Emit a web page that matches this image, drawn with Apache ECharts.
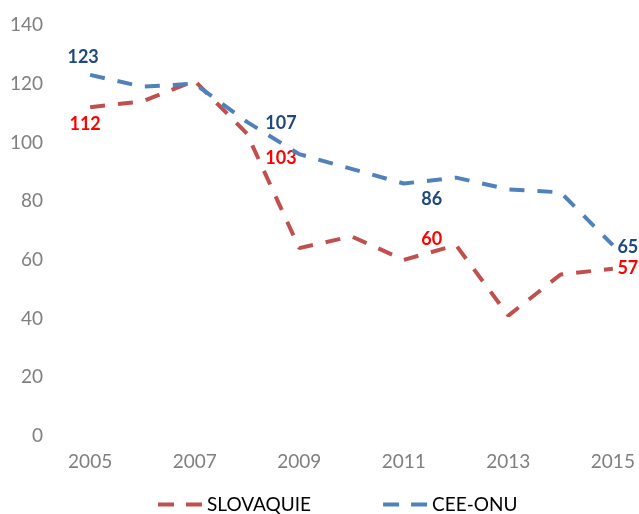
<!DOCTYPE html>
<html>
<head>
<meta charset="utf-8">
<script src="https://cdn.jsdelivr.net/npm/echarts@6/dist/echarts.min.js"></script>
<style>html,body{margin:0;padding:0;background:#fff}#c{width:639px;height:514px}</style>
</head>
<body>
<div id="c"></div>
<script>
const years = ['2005','2006','2007','2008','2009','2010','2011','2012','2013','2014','2015'];
const slovaquie = [112, 114, 121, 103, 64, 68, 60, 65, 41, 55, 57];
const ceeOnu = [123, 119, 120, 107, 96, 91, 86, 88, 84, 83, 65];
const yTicks = [0, 20, 40, 60, 80, 100, 120, 140];
const labelIdx = [0, 3, 6, 10];

// label offsets (layout only)
const redOffsets = {0: [-5, 17], 3: [34, 25], 6: [28, -21], 10: [15, 0]};
const blueOffsets = {0: [-7, -18], 3: [34, 1], 6: [28, 16], 10: [15, 2]};

function build(values, offsets, color) {
  return values.map((v, i) => {
    if (labelIdx.indexOf(i) >= 0) {
      return {value: v, label: {show: true, position: 'inside', offset: offsets[i],
        color: color, fontWeight: 'bold', fontSize: 18, fontFamily: 'Lato'}};
    }
    return {value: v};
  });
}

const chart = echarts.init(document.getElementById('c'));
chart.setOption({
  animation: false,
  grid: {left: 64, right: 0, top: 25, bottom: 78},
  legend: {
    left: 151, top: 490, itemWidth: 44, itemHeight: 14, itemGap: 70,
    itemStyle: {opacity: 0},
    lineStyle: {width: 4, type: [16, 12]},
    textStyle: {fontFamily: 'Lato', fontSize: 19, color: '#000'},
    data: ['SLOVAQUIE', 'CEE-ONU']
  },
  xAxis: {
    type: 'category', data: years, boundaryGap: true,
    axisLine: {show: false}, axisTick: {show: false},
    axisLabel: {interval: 1, margin: 16, color: '#7f7f7f', fontSize: 19, fontFamily: 'Lato'}
  },
  yAxis: {
    type: 'value', min: yTicks[0], max: yTicks[yTicks.length - 1], interval: 20,
    splitLine: {show: false}, axisLine: {show: false}, axisTick: {show: false},
    axisLabel: {margin: 21, color: '#7f7f7f', fontSize: 19, fontFamily: 'Lato'}
  },
  series: [
    {
      name: 'SLOVAQUIE', type: 'line', data: build(slovaquie, redOffsets, '#ff0000'),
      symbol: 'circle', symbolSize: 0.1, showSymbol: true,
      itemStyle: {color: '#c0504d', opacity: 1},
      lineStyle: {color: '#c0504d', width: 4, type: [15, 13]},
      z: 2
    },
    {
      name: 'CEE-ONU', type: 'line', data: build(ceeOnu, blueOffsets, '#1f497d'),
      symbol: 'circle', symbolSize: 0.1, showSymbol: true,
      itemStyle: {color: '#4f81bd', opacity: 1},
      lineStyle: {color: '#4f81bd', width: 4, type: [15, 13]},
      z: 3
    }
  ]
});
</script>
</body>
</html>
